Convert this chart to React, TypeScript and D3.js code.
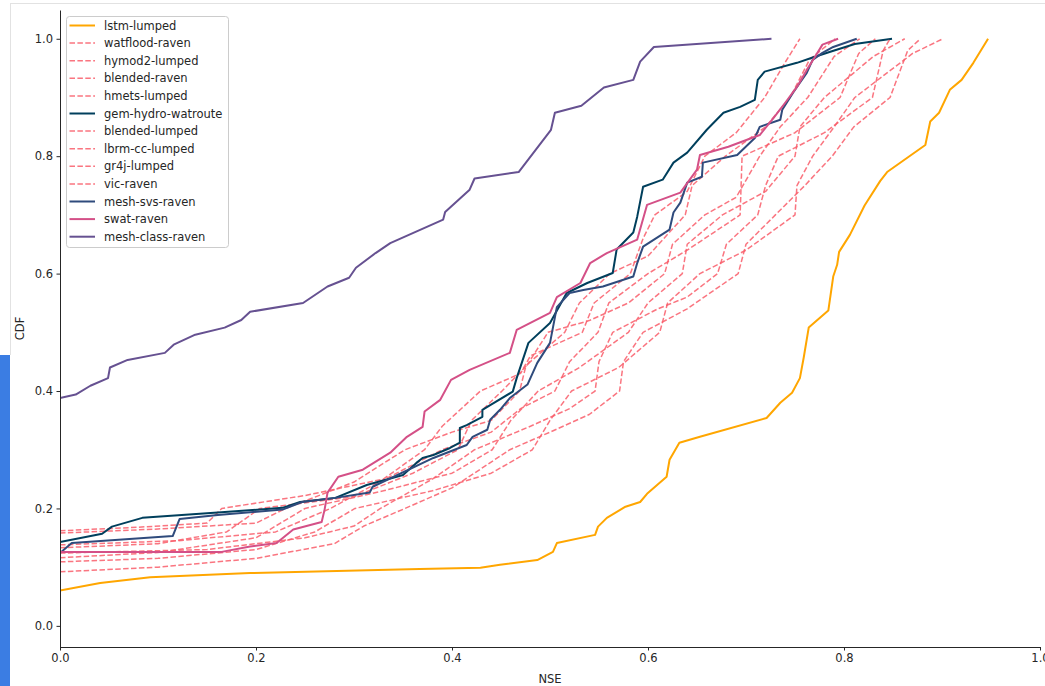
import React, { useEffect, useRef } from 'react';
import * as d3 from 'd3';

type Pt = [number, number];

// [NSE, CDF] pairs
const lstmLumped: Pt[] = [
  [0.0, 0.06], [0.041, 0.073], [0.092, 0.083], [0.194, 0.09], [0.367, 0.097], [0.429, 0.099],
  [0.449, 0.104], [0.487, 0.112], [0.503, 0.126], [0.507, 0.141], [0.546, 0.155], [0.549, 0.169],
  [0.558, 0.184], [0.577, 0.203], [0.592, 0.211], [0.599, 0.225], [0.619, 0.254], [0.622, 0.283],
  [0.632, 0.312], [0.653, 0.322], [0.721, 0.354], [0.735, 0.38], [0.747, 0.397], [0.755, 0.422],
  [0.759, 0.458], [0.764, 0.508], [0.784, 0.537], [0.789, 0.595], [0.793, 0.615], [0.795, 0.637],
  [0.806, 0.666], [0.821, 0.716], [0.837, 0.758], [0.844, 0.773], [0.883, 0.819], [0.888, 0.859],
  [0.897, 0.874], [0.908, 0.913], [0.92, 0.93], [0.932, 0.959], [0.947, 1.0],
];
const watfloodRaven: Pt[] = [
  [0, 0.162], [0.08, 0.168], [0.15, 0.175], [0.165, 0.2], [0.25, 0.222], [0.33, 0.25], [0.372, 0.3],
  [0.39, 0.34], [0.429, 0.4], [0.47, 0.43], [0.48, 0.46], [0.533, 0.5], [0.545, 0.55], [0.582, 0.6],
  [0.595, 0.66], [0.607, 0.7], [0.64, 0.74], [0.658, 0.8], [0.69, 0.84], [0.719, 0.9], [0.74, 0.96],
  [0.755, 1.0],
];
const hymod2Lumped: Pt[] = [
  [0, 0.158], [0.1, 0.165], [0.2, 0.175], [0.23, 0.2], [0.3, 0.245], [0.352, 0.3], [0.4, 0.33],
  [0.44, 0.35], [0.469, 0.4], [0.475, 0.44], [0.498, 0.5], [0.54, 0.52], [0.58, 0.55], [0.617, 0.6],
  [0.625, 0.65], [0.658, 0.7], [0.69, 0.73], [0.714, 0.8], [0.735, 0.85], [0.763, 0.9], [0.79, 0.97],
  [0.816, 1.0],
];
const blendedRaven: Pt[] = [
  [0, 0.133], [0.1, 0.14], [0.17, 0.16], [0.204, 0.2], [0.3, 0.22], [0.36, 0.26], [0.406, 0.3],
  [0.42, 0.35], [0.451, 0.4], [0.48, 0.45], [0.515, 0.5], [0.53, 0.55], [0.561, 0.6], [0.6, 0.63],
  [0.638, 0.7], [0.645, 0.75], [0.679, 0.8], [0.72, 0.85], [0.745, 0.9], [0.765, 0.965], [0.791, 1.0],
];
const hmetsLumped: Pt[] = [
  [0, 0.138], [0.12, 0.145], [0.22, 0.16], [0.276, 0.2], [0.32, 0.24], [0.39, 0.3], [0.44, 0.33],
  [0.47, 0.37], [0.505, 0.4], [0.52, 0.45], [0.549, 0.5], [0.56, 0.55], [0.6, 0.6], [0.64, 0.64],
  [0.694, 0.7], [0.695, 0.75], [0.696, 0.8], [0.75, 0.84], [0.796, 0.9], [0.815, 0.975], [0.832, 1.0],
];
const gemHydroWatroute: Pt[] = [
  [0, 0.143], [0.043, 0.157], [0.053, 0.169], [0.084, 0.184], [0.161, 0.193], [0.227, 0.201],
  [0.245, 0.211], [0.281, 0.218], [0.313, 0.24], [0.35, 0.257], [0.364, 0.278], [0.37, 0.286],
  [0.381, 0.291], [0.398, 0.303], [0.408, 0.312], [0.408, 0.337], [0.415, 0.342], [0.431, 0.356],
  [0.431, 0.368], [0.439, 0.376], [0.462, 0.399], [0.466, 0.422], [0.478, 0.482], [0.5, 0.516],
  [0.517, 0.567], [0.538, 0.584], [0.564, 0.601], [0.568, 0.641], [0.585, 0.67], [0.589, 0.697],
  [0.595, 0.748], [0.615, 0.76], [0.626, 0.789], [0.64, 0.806], [0.66, 0.845], [0.677, 0.874],
  [0.694, 0.884], [0.709, 0.896], [0.712, 0.93], [0.719, 0.944], [0.752, 0.959], [0.768, 0.968],
  [0.786, 0.978], [0.811, 0.991], [0.849, 1.0],
];
const blendedLumped: Pt[] = [
  [0, 0.116], [0.1, 0.125], [0.2, 0.15], [0.25, 0.2], [0.33, 0.23], [0.4, 0.26], [0.441, 0.3],
  [0.46, 0.35], [0.488, 0.4], [0.53, 0.44], [0.58, 0.5], [0.6, 0.55], [0.635, 0.6], [0.64, 0.65],
  [0.676, 0.7], [0.72, 0.74], [0.75, 0.8], [0.755, 0.85], [0.78, 0.9], [0.83, 0.97], [0.862, 1.0],
];
const lbrmCcLumped: Pt[] = [
  [0, 0.124], [0.15, 0.13], [0.25, 0.15], [0.3, 0.17], [0.327, 0.2], [0.38, 0.25], [0.423, 0.3],
  [0.48, 0.34], [0.52, 0.37], [0.546, 0.4], [0.55, 0.45], [0.564, 0.5], [0.61, 0.54], [0.64, 0.56],
  [0.671, 0.6], [0.68, 0.65], [0.712, 0.7], [0.72, 0.75], [0.733, 0.8], [0.78, 0.84], [0.829, 0.9],
  [0.84, 0.98], [0.847, 1.0],
];
const gr4jLumped: Pt[] = [
  [0, 0.109], [0.1, 0.115], [0.2, 0.13], [0.26, 0.16], [0.301, 0.2], [0.38, 0.23], [0.44, 0.26],
  [0.482, 0.3], [0.5, 0.35], [0.522, 0.4], [0.57, 0.44], [0.612, 0.5], [0.62, 0.55], [0.653, 0.6],
  [0.7, 0.64], [0.75, 0.7], [0.752, 0.75], [0.768, 0.8], [0.79, 0.85], [0.811, 0.9], [0.87, 0.975],
  [0.901, 1.0],
];
const vicRaven: Pt[] = [
  [0, 0.092], [0.1, 0.1], [0.2, 0.115], [0.28, 0.14], [0.31, 0.17], [0.352, 0.2], [0.4, 0.235],
  [0.459, 0.3], [0.5, 0.33], [0.54, 0.36], [0.571, 0.4], [0.575, 0.45], [0.595, 0.5], [0.64, 0.54],
  [0.692, 0.6], [0.7, 0.65], [0.73, 0.7], [0.76, 0.75], [0.788, 0.8], [0.81, 0.85], [0.847, 0.9],
  [0.865, 0.98], [0.878, 1.0],
];
const meshSvsRaven: Pt[] = [
  [0, 0.124], [0.012, 0.141], [0.115, 0.153], [0.122, 0.182], [0.161, 0.189], [0.227, 0.198],
  [0.247, 0.211], [0.281, 0.218], [0.316, 0.227], [0.319, 0.237], [0.381, 0.286], [0.415, 0.308],
  [0.421, 0.322], [0.436, 0.334], [0.439, 0.351], [0.449, 0.368], [0.459, 0.388], [0.477, 0.411],
  [0.487, 0.448], [0.5, 0.482], [0.507, 0.543], [0.52, 0.567], [0.534, 0.572], [0.554, 0.578],
  [0.585, 0.595], [0.589, 0.618], [0.595, 0.646], [0.622, 0.675], [0.626, 0.704], [0.633, 0.721],
  [0.64, 0.755], [0.655, 0.765], [0.656, 0.789], [0.691, 0.802], [0.709, 0.831], [0.714, 0.85],
  [0.735, 0.862], [0.737, 0.879], [0.748, 0.908], [0.755, 0.925], [0.762, 0.942], [0.768, 0.964],
  [0.778, 0.976], [0.789, 0.986], [0.813, 1.0],
];
const swatRaven: Pt[] = [
  [0, 0.126], [0.165, 0.126], [0.194, 0.135], [0.221, 0.141], [0.238, 0.164], [0.267, 0.177],
  [0.27, 0.198], [0.273, 0.227], [0.284, 0.254], [0.309, 0.266], [0.337, 0.295], [0.354, 0.322],
  [0.37, 0.339], [0.372, 0.365], [0.388, 0.385], [0.399, 0.419], [0.418, 0.436], [0.459, 0.465],
  [0.466, 0.504], [0.5, 0.533], [0.507, 0.56], [0.531, 0.584], [0.541, 0.618], [0.558, 0.635],
  [0.589, 0.658], [0.599, 0.717], [0.633, 0.738], [0.65, 0.777], [0.653, 0.802], [0.682, 0.816],
  [0.714, 0.836], [0.728, 0.865], [0.74, 0.891], [0.752, 0.918], [0.762, 0.947], [0.77, 0.968],
  [0.778, 0.99], [0.794, 1.0],
];
const meshClassRaven: Pt[] = [
  [0, 0.388], [0.016, 0.394], [0.031, 0.409], [0.049, 0.422], [0.051, 0.44], [0.069, 0.453],
  [0.107, 0.465], [0.116, 0.479], [0.138, 0.496], [0.168, 0.508], [0.185, 0.521], [0.194, 0.535],
  [0.248, 0.55], [0.273, 0.578], [0.295, 0.593], [0.302, 0.61], [0.322, 0.635], [0.337, 0.652],
  [0.391, 0.692], [0.393, 0.705], [0.418, 0.743], [0.423, 0.762], [0.468, 0.773], [0.501, 0.845],
  [0.505, 0.874], [0.532, 0.886], [0.555, 0.917], [0.585, 0.93], [0.592, 0.961], [0.606, 0.986],
  [0.726, 1.0],
];

const modelNames = [
  'lstm-lumped', 'watflood-raven', 'hymod2-lumped', 'blended-raven', 'hmets-lumped',
  'gem-hydro-watroute', 'blended-lumped', 'lbrm-cc-lumped', 'gr4j-lumped', 'vic-raven',
  'mesh-svs-raven', 'swat-raven', 'mesh-class-raven',
];
const modelValues = [
  lstmLumped, watfloodRaven, hymod2Lumped, blendedRaven, hmetsLumped, gemHydroWatroute,
  blendedLumped, lbrmCcLumped, gr4jLumped, vicRaven, meshSvsRaven, swatRaven, meshClassRaven,
];
const modelColors = [
  '#ffa600', '#f95d6a', '#f95d6a', '#f95d6a', '#f95d6a', '#003f5c', '#f95d6a', '#f95d6a',
  '#f95d6a', '#f95d6a', '#2f4b7c', '#d45087', '#665191',
];
const modelDashed = [false, true, true, true, true, false, true, true, true, true, false, false, false];

const xTicks = [0, 0.2, 0.4, 0.6, 0.8, 1.0];
const yTicks = [0, 0.2, 0.4, 0.6, 0.8, 1.0];

const FONT = "'DejaVu Sans', sans-serif";

const App = () => {
  const svgRef = useRef<SVGSVGElement>(null);

  useEffect(() => {
    const width = 1045;
    const height = 686;
    const svg = d3.select(svgRef.current).attr('width', width).attr('height', height);
    svg.selectAll('*').remove();

    // notebook frame bits around the figure
    svg.append('rect').attr('width', width).attr('height', height).attr('fill', '#fff');
    svg.append('line').attr('x1', 10).attr('x2', width).attr('y1', 3.5).attr('y2', 3.5)
      .attr('stroke', '#e2e2e2');
    svg.append('line').attr('x1', 10.5).attr('x2', 10.5).attr('y1', 3).attr('y2', 355)
      .attr('stroke', '#e2e2e2');
    svg.append('rect').attr('x', 0).attr('y', 355).attr('width', 10).attr('height', 331)
      .attr('fill', '#3b7de3');

    const x = d3.scaleLinear().domain([0, 1]).range([60, 1040]);
    const y = d3.scaleLinear().domain([-0.036, 1.049]).range([647, 10]);

    svg.append('clipPath').attr('id', 'plot-clip')
      .append('rect').attr('x', 60).attr('y', 10).attr('width', 980).attr('height', 637);

    const line = d3.line<Pt>().x((d) => x(d[0])).y((d) => y(d[1]));

    const plot = svg.append('g').attr('clip-path', 'url(#plot-clip)');
    modelValues.forEach((vals, i) => {
      plot.append('path')
        .datum(vals)
        .attr('d', line)
        .attr('fill', 'none')
        .attr('stroke', modelColors[i])
        .attr('stroke-width', modelDashed[i] ? 1.5 : 2)
        .attr('stroke-opacity', modelDashed[i] ? 0.85 : 1)
        .attr('stroke-dasharray', modelDashed[i] ? '5.5,2.4' : null)
        .attr('stroke-linejoin', 'round');
    });

    // Axes
    const fmt = d3.format('.1f');
    const xAxis = d3.axisBottom(x).tickValues(xTicks).tickFormat((d) => fmt(d as number))
      .tickSize(3.5).tickPadding(3.5).tickSizeOuter(0);
    const yAxis = d3.axisLeft(y).tickValues(yTicks).tickFormat((d) => fmt(d as number))
      .tickSize(3.5).tickPadding(3.5).tickSizeOuter(0);

    const gx = svg.append('g').attr('transform', 'translate(0,647)').call(xAxis);
    const gy = svg.append('g').attr('transform', 'translate(60,0)').call(yAxis);
    [gx, gy].forEach((g) => {
      g.select('.domain').attr('stroke', '#262626').attr('stroke-width', 1);
      g.selectAll('.tick line').attr('stroke', '#262626').attr('stroke-width', 1);
      g.selectAll('text').attr('fill', '#262626').style('font-size', '11.5px')
        .style('font-family', FONT);
    });

    svg.append('text').attr('x', 550).attr('y', 683).attr('text-anchor', 'middle')
      .style('font-family', FONT).style('font-size', '11.5px').attr('fill', '#262626').text('NSE');
    svg.append('text').attr('transform', 'translate(24,328.5) rotate(-90)')
      .attr('text-anchor', 'middle').style('font-family', FONT).style('font-size', '11.5px')
      .attr('fill', '#262626').text('CDF');

    // Legend
    const legend = svg.append('g');
    legend.append('rect').attr('x', 66.5).attr('y', 16.5).attr('width', 162).attr('height', 231)
      .attr('rx', 3).attr('fill', '#fff').attr('fill-opacity', 0.8).attr('stroke', '#cccccc');
    modelNames.forEach((name, i) => {
      const cy = 25.5 + i * 17.6;
      legend.append('line').attr('x1', 69.5).attr('x2', 95).attr('y1', cy).attr('y2', cy)
        .attr('stroke', modelColors[i])
        .attr('stroke-width', modelDashed[i] ? 1.5 : 2)
        .attr('stroke-opacity', modelDashed[i] ? 0.85 : 1)
        .attr('stroke-dasharray', modelDashed[i] ? '5.5,2.4' : null);
      legend.append('text').attr('x', 104).attr('y', cy).attr('dy', '0.35em')
        .style('font-family', FONT).style('font-size', '11.5px').attr('fill', '#262626').text(name);
    });
  }, []);

  return (
    <div style={{ position: 'absolute', left: 0, top: 0 }}>
      <svg ref={svgRef} style={{ display: 'block' }}></svg>
    </div>
  );
};

export default App;
